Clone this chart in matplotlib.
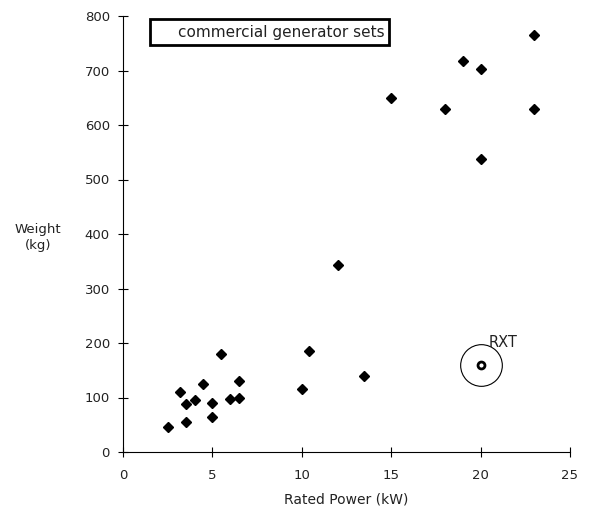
import matplotlib
matplotlib.use('Agg')
import matplotlib.pyplot as plt
from matplotlib.patches import Rectangle

# commercial generator sets: rated power (kW) vs weight (kg)
power = [2.5, 3.2, 3.5, 3.5, 4.0, 4.5, 5.0, 5.0, 5.5, 6.0, 6.5, 6.5,
         10.0, 10.4, 12.0, 13.5, 15.0, 18.0, 19.0, 20.0, 20.0, 23.0, 23.0]
weight = [45, 110, 88, 55, 95, 125, 90, 65, 180, 97, 130, 100,
          115, 185, 343, 140, 650, 630, 718, 703, 537, 765, 630]

# RXT design point
rxt_power = [20.0]
rxt_weight = [160]

x_ticks = [0, 5, 10, 15, 20, 25]
y_ticks = [0, 100, 200, 300, 400, 500, 600, 700, 800]

plt.rcParams['font.family'] = ['DejaVu Sans']
plt.rcParams['font.size'] = 9.5

fig = plt.figure(figsize=(5.89, 5.12), dpi=100)
ax = fig.add_axes([123 / 589, 60 / 512, 447 / 589, 436 / 512])

ax.plot(power, weight, linestyle='none', marker='D', markersize=5.5,
        color='black')

ax.plot(rxt_power, rxt_weight, linestyle='none', marker='o', markersize=5,
        markerfacecolor='white', markeredgecolor='black', markeredgewidth=2)
ax.plot(rxt_power, rxt_weight, linestyle='none', marker='o', markersize=30,
        markerfacecolor='none', markeredgecolor='black', markeredgewidth=0.8)
ax.annotate('RXT', (rxt_power[0], rxt_weight[0]), xytext=(6, 13),
            textcoords='offset points', fontsize=10.5, color='#222222')

ax.set_xlim(0, 25)
ax.set_ylim(0, 800)
ax.set_xticks(x_ticks)
ax.set_yticks(y_ticks)
ax.spines['top'].set_visible(False)
ax.spines['right'].set_visible(False)
ax.tick_params(direction='inout', length=7, width=0.8, labelsize=9.5,
               labelcolor='#222222')
ax.tick_params(axis='x', pad=9)
ax.tick_params(axis='y', pad=6)

ax.set_xlabel('Rated Power (kW)', labelpad=7, fontsize=10, color='#222222')
fig.text(38 / 589, 1 - 237 / 512, 'Weight\n(kg)', ha='center', va='center',
         fontsize=9.5, linespacing=1.3, color='#222222')

# legend-like label box
fig.patches.append(Rectangle((150 / 589, 1 - 45 / 512), 239 / 589, 26 / 512,
                             transform=fig.transFigure, fill=False,
                             edgecolor='black', linewidth=2))
fig.text(385 / 589, 1 - 32 / 512, 'commercial generator sets', ha='right',
         va='center', fontsize=11, color='#222222')

fig.savefig('out.png', dpi=100)
